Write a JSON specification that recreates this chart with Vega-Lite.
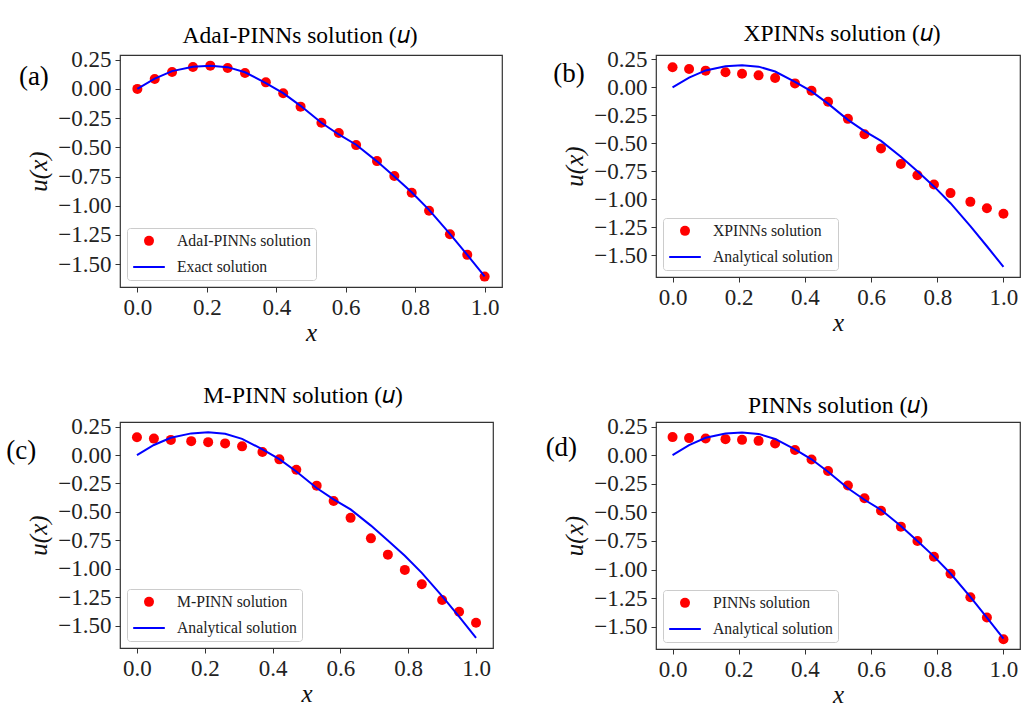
{
  "$schema": "https://vega.github.io/schema/vega-lite/v6.json",
  "background": "white",
  "padding": {"left": 5, "top": 21, "right": 0, "bottom": 0},
  "columns": 2,
  "spacing": {"row": 135, "column": 154},
  "bounds": "flush",
  "align": "each",
  "resolve": {
    "scale": {"fill": "independent", "stroke": "independent", "shape": "independent", "size": "independent"},
    "legend": {"fill": "independent", "stroke": "independent", "shape": "independent", "size": "independent"}
  },
  "datasets": {
    "ex": [
      {"x": 0, "u": 0}, {"x": 0.05, "u": 0.088}, {"x": 0.1, "u": 0.152}, {"x": 0.16, "u": 0.19},
      {"x": 0.21, "u": 0.199}, {"x": 0.26, "u": 0.186}, {"x": 0.31, "u": 0.142}, {"x": 0.37, "u": 0.05},
      {"x": 0.42, "u": -0.036}, {"x": 0.47, "u": -0.145}, {"x": 0.53, "u": -0.29}, {"x": 0.58, "u": -0.39},
      {"x": 0.63, "u": -0.478}, {"x": 0.69, "u": -0.62}, {"x": 0.74, "u": -0.75}, {"x": 0.79, "u": -0.885},
      {"x": 0.84, "u": -1.035}, {"x": 0.9, "u": -1.24}, {"x": 0.95, "u": -1.42}, {"x": 1, "u": -1.605}
    ],
    "pa": [
      {"x": 0, "u": 0}, {"x": 0.05, "u": 0.085}, {"x": 0.1, "u": 0.144}, {"x": 0.16, "u": 0.187},
      {"x": 0.21, "u": 0.199}, {"x": 0.26, "u": 0.179}, {"x": 0.31, "u": 0.136}, {"x": 0.37, "u": 0.056},
      {"x": 0.42, "u": -0.038}, {"x": 0.47, "u": -0.152}, {"x": 0.53, "u": -0.289}, {"x": 0.58, "u": -0.378},
      {"x": 0.63, "u": -0.481}, {"x": 0.69, "u": -0.618}, {"x": 0.74, "u": -0.746}, {"x": 0.79, "u": -0.889},
      {"x": 0.84, "u": -1.043}, {"x": 0.9, "u": -1.243}, {"x": 0.95, "u": -1.42}, {"x": 1, "u": -1.606}
    ],
    "pb": [
      {"x": 0, "u": 0.18}, {"x": 0.05, "u": 0.165}, {"x": 0.1, "u": 0.15}, {"x": 0.16, "u": 0.135},
      {"x": 0.21, "u": 0.122}, {"x": 0.26, "u": 0.108}, {"x": 0.31, "u": 0.085}, {"x": 0.37, "u": 0.036},
      {"x": 0.42, "u": -0.029}, {"x": 0.47, "u": -0.128}, {"x": 0.53, "u": -0.281}, {"x": 0.58, "u": -0.418},
      {"x": 0.63, "u": -0.545}, {"x": 0.69, "u": -0.685}, {"x": 0.74, "u": -0.785}, {"x": 0.79, "u": -0.868},
      {"x": 0.84, "u": -0.945}, {"x": 0.9, "u": -1.023}, {"x": 0.95, "u": -1.08}, {"x": 1, "u": -1.13}
    ],
    "pc": [
      {"x": 0, "u": 0.156}, {"x": 0.05, "u": 0.144}, {"x": 0.1, "u": 0.133}, {"x": 0.16, "u": 0.122},
      {"x": 0.21, "u": 0.113}, {"x": 0.26, "u": 0.102}, {"x": 0.31, "u": 0.076}, {"x": 0.37, "u": 0.027},
      {"x": 0.42, "u": -0.038}, {"x": 0.47, "u": -0.13}, {"x": 0.53, "u": -0.269}, {"x": 0.58, "u": -0.404},
      {"x": 0.63, "u": -0.552}, {"x": 0.69, "u": -0.732}, {"x": 0.74, "u": -0.875}, {"x": 0.79, "u": -1.009},
      {"x": 0.84, "u": -1.135}, {"x": 0.9, "u": -1.274}, {"x": 0.95, "u": -1.377}, {"x": 1, "u": -1.474}
    ],
    "pd": [
      {"x": 0, "u": 0.158}, {"x": 0.05, "u": 0.149}, {"x": 0.1, "u": 0.146}, {"x": 0.16, "u": 0.14},
      {"x": 0.21, "u": 0.134}, {"x": 0.26, "u": 0.125}, {"x": 0.31, "u": 0.102}, {"x": 0.37, "u": 0.045},
      {"x": 0.42, "u": -0.038}, {"x": 0.47, "u": -0.139}, {"x": 0.53, "u": -0.266}, {"x": 0.58, "u": -0.376},
      {"x": 0.63, "u": -0.486}, {"x": 0.69, "u": -0.625}, {"x": 0.74, "u": -0.75}, {"x": 0.79, "u": -0.889},
      {"x": 0.84, "u": -1.037}, {"x": 0.9, "u": -1.242}, {"x": 0.95, "u": -1.42}, {"x": 1, "u": -1.61}
    ]
  },
  "concat": [
    {
      "width": 382, "height": 232,
      "title": {"text": "AdaI-PINNs solution (𝑢)", "dx": -11, "offset": 1},
      "layer": [
        {
          "data": {"name": "pa"},
          "mark": {"type": "point", "filled": true, "opacity": 1},
          "encoding": {
            "x": {"field": "x", "type": "quantitative", "scale": {"domain": [-0.05, 1.05], "nice": false, "zero": false}, "axis": {"values": [0, 0.2, 0.4, 0.6, 0.8, 1], "format": ".1f", "title": "x", "tickCount": 10}},
            "y": {"field": "u", "type": "quantitative", "scale": {"domain": [-1.695, 0.29], "nice": false, "zero": false}, "axis": {"values": [0.25, 0, -0.25, -0.5, -0.75, -1, -1.25, -1.5], "format": ".2f", "title": "u(x)", "tickCount": 12}},
            "fill": {"datum": "AdaI-PINNs solution", "type": "nominal", "scale": {"domain": ["AdaI-PINNs solution", "Exact solution"], "range": ["#ff0000", "transparent"]}, "legend": {"title": null}},
            "shape": {"datum": "AdaI-PINNs solution", "type": "nominal", "scale": {"domain": ["AdaI-PINNs solution", "Exact solution"], "range": ["circle", "stroke"]}, "legend": {"title": null}},
            "size": {"datum": "AdaI-PINNs solution", "type": "ordinal", "scale": {"type": "point", "padding": 0, "domain": ["AdaI-PINNs solution", "Exact solution"], "range": [100, 1000]}, "legend": {"title": null}}
          }
        },
        {
          "data": {"name": "ex"},
          "mark": {"type": "line", "strokeWidth": 2},
          "encoding": {
            "x": {"field": "x", "type": "quantitative"},
            "y": {"field": "u", "type": "quantitative"},
            "stroke": {"datum": "Exact solution", "type": "nominal", "scale": {"domain": ["AdaI-PINNs solution", "Exact solution"], "range": ["transparent", "#0000ff"]}, "legend": {"title": null}}
          }
        },
        {
          "data": {"values": [{"tag": "(a)"}]},
          "mark": {"type": "text", "fontSize": 27, "color": "black", "align": "center", "baseline": "middle"},
          "encoding": {"x": {"datum": -0.298}, "y": {"datum": 0.102}, "text": {"field": "tag"}}
        }
      ]
    },
    {
      "width": 364, "height": 222,
      "title": {"text": "XPINNs solution (𝑢)", "dx": 4, "offset": 3},
      "layer": [
        {
          "data": {"name": "pb"},
          "mark": {"type": "point", "filled": true, "opacity": 1},
          "encoding": {
            "x": {"field": "x", "type": "quantitative", "scale": {"domain": [-0.05, 1.05], "nice": false, "zero": false}, "axis": {"values": [0, 0.2, 0.4, 0.6, 0.8, 1], "format": ".1f", "title": "x", "tickCount": 10}},
            "y": {"field": "u", "type": "quantitative", "scale": {"domain": [-1.695, 0.29], "nice": false, "zero": false}, "axis": {"values": [0.25, 0, -0.25, -0.5, -0.75, -1, -1.25, -1.5], "format": ".2f", "title": "u(x)", "tickCount": 12}},
            "fill": {"datum": "XPINNs solution", "type": "nominal", "scale": {"domain": ["XPINNs solution", "Analytical solution"], "range": ["#ff0000", "transparent"]}, "legend": {"title": null}},
            "shape": {"datum": "XPINNs solution", "type": "nominal", "scale": {"domain": ["XPINNs solution", "Analytical solution"], "range": ["circle", "stroke"]}, "legend": {"title": null}},
            "size": {"datum": "XPINNs solution", "type": "ordinal", "scale": {"type": "point", "padding": 0, "domain": ["XPINNs solution", "Analytical solution"], "range": [100, 1000]}, "legend": {"title": null}}
          }
        },
        {
          "data": {"name": "ex"},
          "mark": {"type": "line", "strokeWidth": 2},
          "encoding": {
            "x": {"field": "x", "type": "quantitative"},
            "y": {"field": "u", "type": "quantitative"},
            "stroke": {"datum": "Analytical solution", "type": "nominal", "scale": {"domain": ["XPINNs solution", "Analytical solution"], "range": ["transparent", "#0000ff"]}, "legend": {"title": null}}
          }
        },
        {
          "data": {"values": [{"tag": "(b)"}]},
          "mark": {"type": "text", "fontSize": 27, "color": "black", "align": "center", "baseline": "middle"},
          "encoding": {"x": {"datum": -0.313}, "y": {"datum": 0.116}, "text": {"field": "tag"}}
        }
      ]
    },
    {
      "width": 373, "height": 226,
      "title": {"text": "M-PINN solution (𝑢)", "dx": -3.5, "offset": 8},
      "layer": [
        {
          "data": {"name": "pc"},
          "mark": {"type": "point", "filled": true, "opacity": 1},
          "encoding": {
            "x": {"field": "x", "type": "quantitative", "scale": {"domain": [-0.05, 1.05], "nice": false, "zero": false}, "axis": {"values": [0, 0.2, 0.4, 0.6, 0.8, 1], "format": ".1f", "title": "x", "tickCount": 10}},
            "y": {"field": "u", "type": "quantitative", "scale": {"domain": [-1.695, 0.29], "nice": false, "zero": false}, "axis": {"values": [0.25, 0, -0.25, -0.5, -0.75, -1, -1.25, -1.5], "format": ".2f", "title": "u(x)", "tickCount": 12}},
            "fill": {"datum": "M-PINN solution", "type": "nominal", "scale": {"domain": ["M-PINN solution", "Analytical solution"], "range": ["#ff0000", "transparent"]}, "legend": {"title": null}},
            "shape": {"datum": "M-PINN solution", "type": "nominal", "scale": {"domain": ["M-PINN solution", "Analytical solution"], "range": ["circle", "stroke"]}, "legend": {"title": null}},
            "size": {"datum": "M-PINN solution", "type": "ordinal", "scale": {"type": "point", "padding": 0, "domain": ["M-PINN solution", "Analytical solution"], "range": [100, 1000]}, "legend": {"title": null}}
          }
        },
        {
          "data": {"name": "ex"},
          "mark": {"type": "line", "strokeWidth": 2},
          "encoding": {
            "x": {"field": "x", "type": "quantitative"},
            "y": {"field": "u", "type": "quantitative"},
            "stroke": {"datum": "Analytical solution", "type": "nominal", "scale": {"domain": ["M-PINN solution", "Analytical solution"], "range": ["transparent", "#0000ff"]}, "legend": {"title": null}}
          }
        },
        {
          "data": {"values": [{"tag": "(c)"}]},
          "mark": {"type": "text", "fontSize": 27, "color": "black", "align": "center", "baseline": "middle"},
          "encoding": {"x": {"datum": -0.341}, "y": {"datum": 0.035}, "text": {"field": "tag"}}
        }
      ]
    },
    {
      "width": 364, "height": 227,
      "title": {"text": "PINNs solution (𝑢)", "dx": 0, "offset": -2},
      "layer": [
        {
          "data": {"name": "pd"},
          "mark": {"type": "point", "filled": true, "opacity": 1},
          "encoding": {
            "x": {"field": "x", "type": "quantitative", "scale": {"domain": [-0.05, 1.05], "nice": false, "zero": false}, "axis": {"values": [0, 0.2, 0.4, 0.6, 0.8, 1], "format": ".1f", "title": "x", "tickCount": 10}},
            "y": {"field": "u", "type": "quantitative", "scale": {"domain": [-1.695, 0.29], "nice": false, "zero": false}, "axis": {"values": [0.25, 0, -0.25, -0.5, -0.75, -1, -1.25, -1.5], "format": ".2f", "title": "u(x)", "tickCount": 12}},
            "fill": {"datum": "PINNs solution", "type": "nominal", "scale": {"domain": ["PINNs solution", "Analytical solution"], "range": ["#ff0000", "transparent"]}, "legend": {"title": null}},
            "shape": {"datum": "PINNs solution", "type": "nominal", "scale": {"domain": ["PINNs solution", "Analytical solution"], "range": ["circle", "stroke"]}, "legend": {"title": null}},
            "size": {"datum": "PINNs solution", "type": "ordinal", "scale": {"type": "point", "padding": 0, "domain": ["PINNs solution", "Analytical solution"], "range": [100, 1000]}, "legend": {"title": null}}
          }
        },
        {
          "data": {"name": "ex"},
          "mark": {"type": "line", "strokeWidth": 2},
          "encoding": {
            "x": {"field": "x", "type": "quantitative"},
            "y": {"field": "u", "type": "quantitative"},
            "stroke": {"datum": "Analytical solution", "type": "nominal", "scale": {"domain": ["PINNs solution", "Analytical solution"], "range": ["transparent", "#0000ff"]}, "legend": {"title": null}}
          }
        },
        {
          "data": {"values": [{"tag": "(d)"}]},
          "mark": {"type": "text", "fontSize": 27, "color": "black", "align": "center", "baseline": "middle"},
          "encoding": {"x": {"datum": -0.336}, "y": {"datum": 0.065}, "text": {"field": "tag"}}
        }
      ]
    }
  ],
  "config": {
    "font": "Liberation Serif",
    "view": {"stroke": "#333333", "strokeWidth": 1.2},
    "axis": {
      "labelFont": "Liberation Serif", "labelFontSize": 23, "labelColor": "#222222",
      "titleFont": "Liberation Serif", "titleFontSize": 25, "titleFontStyle": "italic", "titleFontWeight": "normal", "titleColor": "#111111",
      "tickColor": "#333333", "tickSize": 5, "tickWidth": 1, "grid": false, "domain": false,
      "labelPadding": 4, "labelFlush": false, "labelOverlap": false
    },
    "axisX": {"titlePadding": 1},
    "axisY": {"titlePadding": 6},
    "title": {"font": "Liberation Serif", "fontSize": 23.5, "fontWeight": "normal", "color": "#000000", "baseline": "alphabetic", "anchor": "middle"},
    "legend": {
      "orient": "bottom-left", "offset": 7, "padding": 5, "rowPadding": -9,
      "fillColor": "rgba(255,255,255,0.8)", "strokeColor": "#cccccc", "cornerRadius": 3,
      "labelFont": "Liberation Serif", "labelFontSize": 15.7, "labelColor": "#222222", "labelOffset": 11, "labelLimit": 400,
      "symbolStrokeWidth": 2, "symbolOpacity": 1
    }
  }
}
